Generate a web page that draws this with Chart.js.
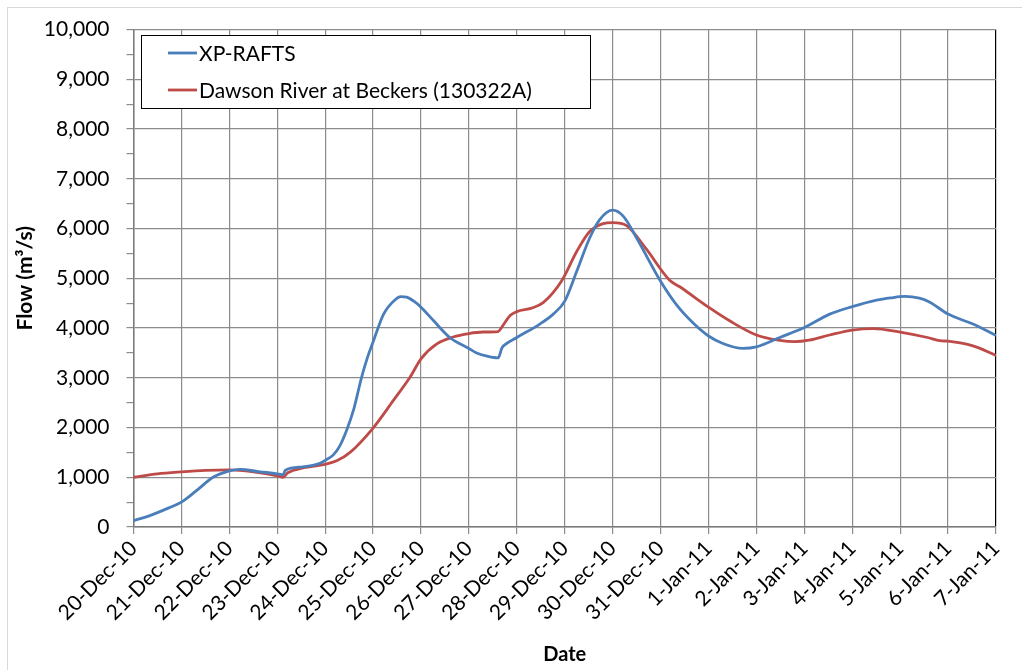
<!DOCTYPE html>
<html>
<head>
<meta charset="utf-8">
<title>Flow comparison</title>
<script src="https://cdn.jsdelivr.net/npm/chart.js@4.4.0/dist/chart.umd.min.js"></script>
<style>
  html, body { margin: 0; padding: 0; background: #ffffff; }
  #wrap { width: 1022px; height: 670px; position: relative; }
</style>
</head>
<body>
<div id="wrap"><canvas id="c" width="1022" height="670"></canvas></div>
<script>
// Tick labels for the daily x grid (day 0 = 20-Dec-10)
const dayLabels = [
  '20-Dec-10', '21-Dec-10', '22-Dec-10', '23-Dec-10', '24-Dec-10', '25-Dec-10',
  '26-Dec-10', '27-Dec-10', '28-Dec-10', '29-Dec-10', '30-Dec-10', '31-Dec-10',
  '1-Jan-11', '2-Jan-11', '3-Jan-11', '4-Jan-11', '5-Jan-11', '6-Jan-11', '7-Jan-11'
];

// XP-RAFTS modelled hydrograph: time (days from 20-Dec-10) and flow (m3/s)
const xpDays = [
  0, 0.25, 0.5, 0.75, 1.0, 1.3, 1.66, 2.0, 2.22, 2.64, 3.0, 3.12, 3.17, 3.54, 3.89,
  4.0, 4.17, 4.3, 4.45, 4.6, 4.76, 4.88, 5.0, 5.22, 5.46, 5.58, 5.7, 5.85, 6.0, 6.26,
  6.6, 7.0, 7.16, 7.4, 7.61, 7.69, 7.76, 8.0, 8.48, 8.76, 9.0, 9.25, 9.52, 9.73, 10.0,
  10.22, 10.5, 11.0, 11.33, 11.68, 12.0, 12.3, 12.72, 13.0, 13.49, 14.0, 14.53, 15.0,
  15.51, 15.8, 16.1, 16.4, 16.6, 17.0, 17.52, 18.0
];
const xpFlow = [
  130, 200, 290, 390, 500, 720, 1000, 1130, 1160, 1110, 1070, 1050, 1140, 1210, 1280,
  1340, 1450, 1620, 1950, 2380, 3010, 3400, 3720, 4280, 4570, 4630, 4620, 4540, 4420, 4150,
  3810, 3590, 3500, 3430, 3400, 3600, 3670, 3810, 4080, 4280, 4540, 5140, 5810, 6180, 6370,
  6250, 5810, 4940, 4470, 4100, 3840, 3690, 3590, 3620, 3810, 4010, 4280, 4430,
  4560, 4605, 4635, 4600, 4530, 4280, 4080, 3850
];

// Dawson River at Beckers (130322A) recorded hydrograph
const gaugeDays = [
  0, 0.5, 1.0, 1.5, 2.0, 2.5, 3.0, 3.12, 3.22, 3.54, 4.0, 4.24, 4.52, 5.0, 5.42, 5.77,
  6.0, 6.33, 6.67, 7.0, 7.3, 7.61, 7.68, 7.86, 8.0, 8.31, 8.55, 8.93, 9.25, 9.52, 9.8,
  10.0, 10.29, 10.7, 11.19, 11.4, 12.0, 12.45, 13.0, 13.49, 13.8, 14.1, 14.53, 15.0, 15.44,
  16.0, 16.57, 16.83, 17.0, 17.52, 18.0
];
const gaugeFlow = [
  1000, 1070, 1110, 1140, 1150, 1110, 1030, 1000, 1090, 1190, 1260, 1330, 1500, 1990, 2540, 3010,
  3380, 3680, 3820, 3890, 3920, 3930, 4010, 4250, 4330, 4400, 4510, 4940, 5540, 5940, 6100,
  6120, 6060, 5590, 4960, 4830, 4420, 4140, 3860, 3750, 3725, 3755, 3860, 3960, 3990,
  3920, 3810, 3745, 3735, 3640, 3450
];

const FONT = 'Lato, "Open Sans", sans-serif';
const GRID = '#8c8c8c';
const AXIS = '#7a7a7a';

const toPoints = (xs, ys) => xs.map((x, i) => ({ x: x, y: ys[i] }));

// White page with a light outer frame
const framePlugin = {
  id: 'frame',
  beforeDraw(chart) {
    const c = chart.ctx;
    c.save();
    c.fillStyle = '#ffffff';
    c.fillRect(0, 0, chart.width, chart.height);
    c.strokeStyle = '#d9d9d9';
    c.lineWidth = 1;
    c.strokeRect(7.5, 7.5, chart.width + 20, chart.height + 20);
    c.restore();
  }
};

// Boxed legend sitting in the upper-left of the plot
const boxLegendPlugin = {
  id: 'boxLegend',
  afterDraw(chart) {
    const c = chart.ctx;
    const x0 = 141.5, y0 = 35.5, w = 449, h = 73;
    c.save();
    c.fillStyle = '#ffffff';
    c.fillRect(x0, y0, w, h);
    c.strokeStyle = '#000000';
    c.lineWidth = 1;
    c.strokeRect(x0, y0, w, h);
    c.font = '21px ' + FONT;
    c.textBaseline = 'middle';
    c.fillStyle = '#000000';
    chart.data.datasets.forEach((ds, i) => {
      const yy = 53 + i * 37;
      c.strokeStyle = ds.borderColor;
      c.lineWidth = 2.8;
      c.beginPath();
      c.moveTo(168, yy);
      c.lineTo(197, yy);
      c.stroke();
      c.fillText(ds.label, 199, yy + 1);
    });
    c.restore();
  }
};

new Chart(document.getElementById('c').getContext('2d'), {
  type: 'line',
  data: {
    datasets: [
      {
        label: 'XP-RAFTS',
        data: toPoints(xpDays, xpFlow),
        borderColor: '#4a7ebb',
        borderWidth: 2.8,
        pointRadius: 0,
        cubicInterpolationMode: 'monotone',
        fill: false
      },
      {
        label: 'Dawson River at Beckers (130322A)',
        data: toPoints(gaugeDays, gaugeFlow),
        borderColor: '#be4b48',
        borderWidth: 2.8,
        pointRadius: 0,
        cubicInterpolationMode: 'monotone',
        fill: false
      }
    ]
  },
  options: {
    responsive: false,
    animation: false,
    devicePixelRatio: 1,
    layout: { padding: { left: 8, right: 26, top: 29.5, bottom: 0 } },
    plugins: {
      legend: { display: false },
      tooltip: { enabled: false }
    },
    scales: {
      x: {
        type: 'linear',
        min: 0,
        max: 18,
        afterFit(scale) { scale.height = 143; },
        ticks: {
          stepSize: 1,
          autoSkip: false,
          maxRotation: 45,
          minRotation: 45,
          color: '#000000',
          padding: 2,
          font: { family: FONT, size: 21 },
          callback: (v) => dayLabels[v]
        },
        grid: {
          color: (ctx) => (ctx.tick && ctx.tick.value === 18 ? '#000000' : GRID),
          lineWidth: 1.2,
          tickLength: 7,
          tickColor: GRID
        },
        border: { color: AXIS, width: 1.5 },
        title: {
          display: true,
          text: 'Date',
          color: '#000000',
          font: { family: FONT, size: 20, weight: 'bold' },
          padding: { top: 0, bottom: 3 }
        }
      },
      y: {
        min: 0,
        max: 10000,
        afterFit(scale) { scale.width = 125.5; },
        ticks: {
          stepSize: 500,
          autoSkip: false,
          color: '#000000',
          padding: 17,
          font: { family: FONT, size: 21 },
          callback: (v) => (v % 1000 === 0 ? v.toLocaleString('en-US') : '')
        },
        grid: {
          color: (ctx) => (ctx.tick && ctx.tick.value % 1000 === 0 ? GRID : 'rgba(0,0,0,0)'),
          lineWidth: 1.2,
          tickLength: 7,
          tickColor: GRID
        },
        border: { color: AXIS, width: 1.5 },
        title: {
          display: true,
          text: 'Flow (m³/s)',
          color: '#000000',
          font: { family: FONT, size: 21, weight: 'bold' },
          padding: { top: 5, bottom: 0 }
        }
      }
    }
  },
  plugins: [framePlugin, boxLegendPlugin]
});
</script>
</body>
</html>
